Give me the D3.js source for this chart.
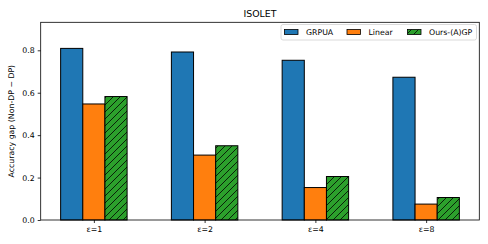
<!DOCTYPE html>
<html><head><meta charset="utf-8">
<script src="https://cdn.jsdelivr.net/npm/d3@7"></script>
<style>body{margin:0;background:#fff}svg{display:block;font-family:"DejaVu Sans",sans-serif}</style>
</head><body>
<svg id="c" width="488" height="244"></svg>
<script>
const categories = ["ε=1","ε=2","ε=4","ε=8"];
const seriesNames = ["GRPUA","Linear","Ours-(A)GP"];
const grpua = [0.809,0.792,0.753,0.673];
const linear = [0.547,0.306,0.153,0.075];
const ours = [0.582,0.350,0.205,0.106];
const yTicks = [0.0,0.2,0.4,0.6,0.8];
const colors = ["#1f77b4","#ff7f0e","#2ca02c"];
const series = [grpua, linear, ours];

const svg = d3.select("#c");
const L=40.7, R=479.3, T=22.3, B=220;
const x = d3.scaleLinear().domain([-0.48,3.48]).range([L,R]);
const y = d3.scaleLinear().domain([0,0.932]).range([B,T]);
const bw = 0.2;
const fs = 7.8;

const defs = svg.append("defs");
const pat = defs.append("pattern").attr("id","hatch").attr("patternUnits","userSpaceOnUse")
  .attr("width",7).attr("height",7);
pat.append("rect").attr("width",7).attr("height",7).attr("fill",colors[2]);
pat.append("path").attr("d","M-1,8 L8,-1 M-4,4 L4,-4 M3,11 L11,3").attr("stroke","#000").attr("stroke-width",0.8);

series.forEach((vals,si)=>{
  svg.append("g").selectAll("rect").data(vals).join("rect")
    .attr("x",(d,i)=>x(i+(si-1)*bw-bw/2))
    .attr("width",x(bw)-x(0))
    .attr("y",d=>y(d))
    .attr("height",d=>B-y(d))
    .attr("fill",si===2?"url(#hatch)":colors[si])
    .attr("stroke","#000").attr("stroke-width",1);
});

// axes
const yAxis = svg.append("g").attr("transform",`translate(${L},0)`)
  .call(d3.axisLeft(y).tickValues(yTicks).tickFormat(d3.format(".1f")).tickSize(3).tickPadding(3));
const xAxis = svg.append("g").attr("transform",`translate(0,${B})`)
  .call(d3.axisBottom(x).tickValues(d3.range(categories.length)).tickFormat(i=>categories[i]).tickSize(3).tickPadding(3));
[yAxis,xAxis].forEach(g=>{
  g.select(".domain").remove();
  g.selectAll("line").attr("stroke","#000").attr("stroke-width",0.8);
  g.selectAll("text").attr("font-size",fs).attr("fill","#000").attr("font-family","DejaVu Sans");
});
svg.append("rect").attr("x",L).attr("y",T).attr("width",R-L).attr("height",B-T)
  .attr("fill","none").attr("stroke","#000").attr("stroke-width",0.8);

svg.append("text").attr("x",(L+R)/2).attr("y",16.5).attr("text-anchor","middle")
  .attr("font-size",9.4).text("ISOLET");
svg.append("text").attr("transform",`translate(13.5,${(T+B)/2}) rotate(-90)`)
  .attr("text-anchor","middle").attr("font-size",fs).text("Accuracy gap  (Non-DP \u2212 DP)");

// legend
const lg = svg.append("g");
lg.append("rect").attr("x",281).attr("y",24.5).attr("width",195.5).attr("height",15.5).attr("rx",2)
  .attr("fill","#fff").attr("fill-opacity",0.8).attr("stroke","#d0d0d0").attr("stroke-width",0.8);
const lx=[284.5,347,407.5];
seriesNames.forEach((n,i)=>{
  lg.append("rect").attr("x",lx[i]).attr("y",29.5).attr("width",13.5).attr("height",5)
    .attr("fill",i===2?"url(#hatch)":colors[i]).attr("stroke","#000").attr("stroke-width",0.8);
  lg.append("text").attr("x",lx[i]+21.5).attr("y",35.2).attr("font-size",fs).text(n);
});
</script>
</body></html>
